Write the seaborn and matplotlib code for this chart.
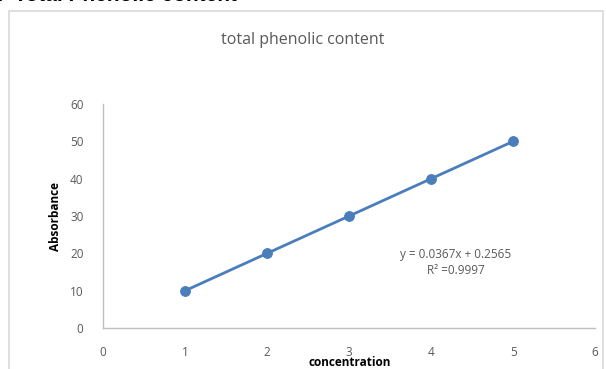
import matplotlib
matplotlib.use("Agg")
import matplotlib.pyplot as plt
import matplotlib.patches as patches
import pandas as pd
import seaborn as sns

concentration = [1, 2, 3, 4, 5]
absorbance = [10, 20, 30, 40, 50]
x_ticks = [0, 1, 2, 3, 4, 5, 6]
y_ticks = [0, 10, 20, 30, 40, 50, 60]
equation = "y = 0.0367x + 0.2565\nR² =0.9997"

df = pd.DataFrame({"concentration": concentration, "absorbance": absorbance})

sns.set_theme(style="white")
plt.rcParams["font.family"] = ["Open Sans", "DejaVu Sans"]

fig = plt.figure(figsize=(6.06, 3.69), dpi=100)
ax = fig.add_axes([0.170, 0.111, 0.812, 0.607])

# outer chart frame and clipped section heading
fig.patches.append(patches.Rectangle((9 / 606, -0.05), 594 / 606, 1 - 11 / 369 + 0.05,
                                     transform=fig.transFigure, fill=False,
                                     edgecolor="#d9d9d9", linewidth=1.2))
fig.text(-0.015, 1.012, "2  Total Phenolic content", fontsize=15, fontweight="bold",
         color="black", ha="left", va="center", family=["Liberation Sans", "DejaVu Sans"])

sns.lineplot(data=df, x="concentration", y="absorbance", ax=ax, color="#4a7ebb",
             marker="o", markersize=7, markeredgecolor="#4a7ebb", linewidth=2)

ax.set_xlim(0, 6)
ax.set_ylim(0, 60)
ax.set_xticks(x_ticks)
ax.set_yticks(y_ticks)
ax.tick_params(axis="both", length=0, labelsize=8.5, labelcolor="#595959")
ax.tick_params(axis="x", pad=13)
ax.tick_params(axis="y", pad=14)
for side in ["top", "right"]:
    ax.spines[side].set_visible(False)
for side in ["left", "bottom"]:
    ax.spines[side].set_color("#bfbfbf")
    ax.spines[side].set_linewidth(1)
ax.set_xlabel("")
ax.set_ylabel("Absorbance", fontsize=8.5, fontweight="bold", color="black", labelpad=6)

fig.text(350 / 606, 1 - 362 / 369, "concentration", fontsize=8.5, fontweight="bold",
         color="black", ha="center", va="center")
fig.text(0.5, 0.892, "total phenolic content", fontsize=11.5, color="#595959",
         ha="center", va="center")
ax.text(4.3, 17.6, equation, fontsize=8.5, color="#595959", ha="center", va="center",
        linespacing=1.25)

fig.savefig("out.png", dpi=100)
